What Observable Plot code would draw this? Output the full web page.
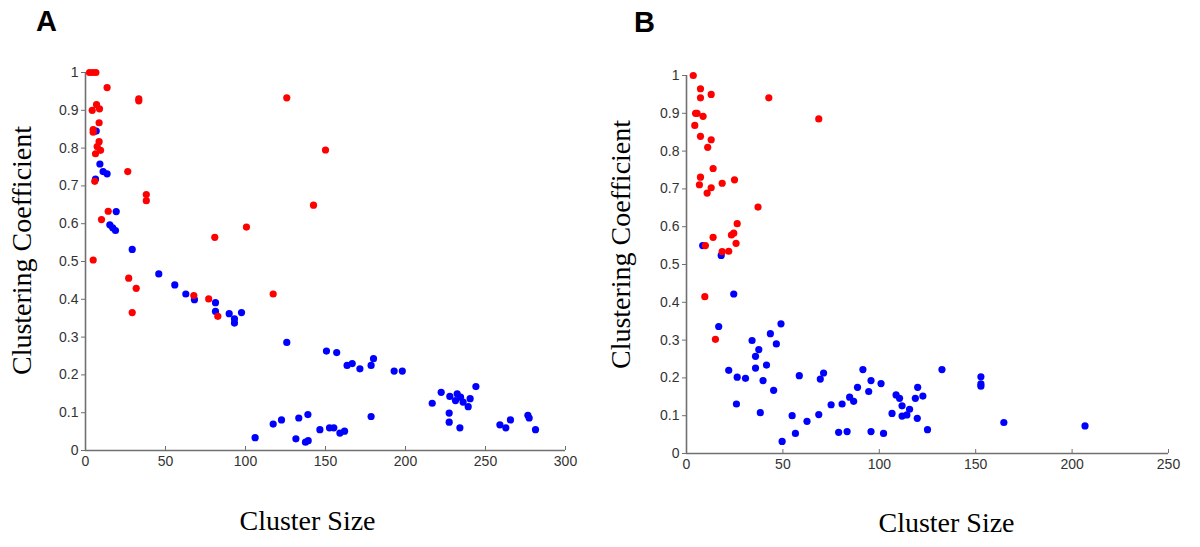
<!DOCTYPE html>
<html>
<head>
<meta charset="utf-8">
<script src="https://cdn.jsdelivr.net/npm/d3@7"></script>
<script src="https://cdn.jsdelivr.net/npm/@observablehq/plot@0.6"></script>
<style>
  html, body { margin: 0; padding: 0; background: #ffffff; }
  #wrap { position: relative; width: 1200px; height: 547px; overflow: hidden; background: #ffffff; }
  .panel { position: absolute; top: 0; width: 600px; height: 547px; }
</style>
</head>
<body>
<div id="wrap">
  <div class="panel" id="panelA" style="left:0px"></div>
  <div class="panel" id="panelB" style="left:600px"></div>
</div>
<script>
// ---- Data (cluster size, clustering coefficient) ----
const panelARed = [
  [2.5,1.0],[4.5,1.0],[6.5,1.0],[13.5,0.96],[33.3,0.93],[33.3,0.925],[4.2,0.90],[6.9,0.915],
  [8.75,0.904],[8.5,0.867],[4.8,0.849],[4.8,0.842],[8.5,0.817],[7.3,0.804],[9.4,0.794],[6.25,0.785],
  [5.8,0.712],[26.4,0.738],[38,0.677],[38,0.661],[14.2,0.633],[10,0.611],[80.8,0.564],[100.6,0.591],
  [4.8,0.504],[27,0.456],[31.7,0.429],[29.2,0.365],[67.7,0.41],[77,0.401],[82.7,0.355],
  [125.8,0.933],[150,0.795],[142.5,0.649],[117.3,0.414]
];
const panelABlue = [
  [6.7,0.845],[6.25,0.718],[9,0.758],[11,0.738],[13.5,0.732],[19.2,0.632],[15.2,0.597],[17,0.589],
  [18.75,0.582],[29.2,0.532],[45.8,0.467],[55.8,0.438],[62.7,0.414],[68.1,0.399],[81.25,0.391],
  [81.25,0.368],[89.8,0.362],[93.1,0.348],[93.1,0.337],[97.5,0.365],[106,0.034],[125.8,0.286],
  [150.6,0.263],[157,0.259],[163.5,0.225],[166.7,0.230],[171.5,0.216],[178.5,0.225],[180,0.243],
  [192.9,0.210],[198,0.210],[178.5,0.09],[222.3,0.154],[216.7,0.125],[227.7,0.143],[232.3,0.150],
  [231.25,0.132],[234.4,0.141],[236,0.128],[239.2,0.116],[240.4,0.137],[244,0.169],[227.3,0.099],
  [227.3,0.075],[234,0.06],[259,0.068],[262.7,0.06],[265.6,0.081],[276.5,0.093],[277.3,0.086],
  [281.25,0.055],[117.3,0.07],[122.5,0.081],[131.5,0.031],[133.3,0.086],[139,0.095],[137.5,0.022],
  [139.2,0.026],[146.5,0.055],[152.5,0.06],[155.2,0.06],[159,0.046],[161.9,0.051]
];
const panelBRed = [
  [3.5,1.0],[7.25,0.965],[12.8,0.95],[7.25,0.941],[42.7,0.941],[4.7,0.90],[5.5,0.90],[8.6,0.892],
  [68.6,0.885],[4.3,0.868],[7.25,0.839],[12.8,0.830],[11,0.810],[13.8,0.754],[7.25,0.731],[6.7,0.711],
  [18.5,0.715],[24.9,0.724],[12.8,0.703],[10.7,0.689],[37.1,0.652],[26.3,0.608],[24.5,0.583],
  [23.3,0.578],[13.8,0.572],[25.7,0.556],[9.8,0.55],[18.5,0.534],[21.9,0.535],[9.5,0.415],[15,0.302]
];
const panelBBlue = [
  [8.4,0.55],[18,0.524],[24.5,0.422],[16.7,0.336],[21.9,0.220],[26.3,0.202],[25.9,0.131],[30.6,0.199],
  [34,0.299],[35.8,0.257],[37.5,0.275],[35.8,0.226],[38.3,0.108],[39.7,0.193],[41.5,0.234],[43.5,0.317],
  [46.6,0.290],[49,0.343],[45.2,0.167],[49.6,0.032],[54.8,0.100],[56.5,0.053],[58.5,0.206],[62.5,0.085],
  [68.6,0.103],[69.4,0.197],[71.1,0.213],[75,0.129],[78.9,0.056],[80.7,0.131],[83.3,0.058],[84.6,0.149],
  [86.7,0.138],[88.7,0.175],[91.5,0.222],[95.7,0.193],[94.5,0.164],[95.7,0.058],[100.9,0.185],
  [102.2,0.053],[106.6,0.106],[108.7,0.155],[110.5,0.146],[111.8,0.126],[111.8,0.099],[114.3,0.102],
  [115.7,0.117],[118.7,0.146],[119.9,0.175],[119.7,0.093],[122.6,0.152],[125,0.063],[132.5,0.222],
  [152.7,0.203],[152.7,0.184],[152.7,0.178],[164.6,0.082],[206.7,0.073]
];
const xTicksA = [0, 50, 100, 150, 200, 250, 300];
const xTicksB = [0, 50, 100, 150, 200, 250];
const yTicks = [0, 0.1, 0.2, 0.3, 0.4, 0.5, 0.6, 0.7, 0.8, 0.9, 1];
const panelLetters = ["A", "B"];
const xTitle = "Cluster Size";
const yTitle = "Clustering Coefficient";

function panel(cfg) {
  const xMax = cfg.xTicks[cfg.xTicks.length - 1];
  return Plot.plot({
    width: 600,
    height: 547,
    marginLeft: cfg.ml,
    marginRight: cfg.mr,
    marginTop: cfg.mt,
    marginBottom: cfg.mb,
    x: {domain: [0, xMax]},
    y: {domain: [0, 1]},
    style: {background: "transparent", fontFamily: "'Liberation Sans', Arial, sans-serif", color: "#333"},
    marks: [
      Plot.axisX(cfg.xTicks, {anchor: "bottom", tickSize: 0, tickPadding: 6, fontSize: 14, label: null, fill: "#333", tickFormat: d => String(d)}),
      Plot.axisY(yTicks, {anchor: "left", tickSize: 4, tickPadding: 3, fontSize: 14, label: null, fill: "#333", stroke: "#707070", tickFormat: d => String(d)}),
      Plot.ruleX(cfg.xTicks, {x: d => d, y1: 0, y2: 4 / (547 - cfg.mt - cfg.mb), stroke: "#707070", strokeWidth: 1}),
      Plot.ruleY([0], {stroke: "#707070", strokeWidth: 1.6}),
      Plot.ruleX([0], {stroke: "#707070", strokeWidth: 1.6}),
      Plot.dot(cfg.blue, {x: d => d[0], y: d => d[1], r: 3.6, fill: "#0000ff", stroke: "none"}),
      Plot.dot(cfg.red, {x: d => d[0], y: d => d[1], r: 3.6, fill: "#ff0000", stroke: "none"}),
      Plot.text([cfg.letter], {text: d => d, frameAnchor: "top-left", dx: cfg.letterDx, dy: cfg.letterDy, textAnchor: "middle", lineAnchor: "middle", fontSize: 29, fontWeight: "bold", fill: "#000", fontFamily: "'Liberation Sans', Arial, sans-serif"}),
      Plot.text([yTitle], {text: d => d, frameAnchor: "left", rotate: -90, textAnchor: "middle", lineAnchor: "middle", dx: cfg.yTitleDx, dy: cfg.yTitleDy, fontSize: 28, fill: "#000", fontFamily: "'Liberation Serif', 'Times New Roman', serif"}),
      Plot.text([xTitle], {text: d => d, frameAnchor: "bottom", textAnchor: "middle", lineAnchor: "middle", dx: cfg.xTitleDx, dy: cfg.xTitleDy, fontSize: 28, fill: "#000", fontFamily: "'Liberation Serif', 'Times New Roman', serif"})
    ]
  });
}

document.getElementById("panelA").append(panel({
  xTicks: xTicksA, red: panelARed, blue: panelABlue, letter: panelLetters[0],
  ml: 85, mr: 35, mt: 72, mb: 97,
  letterDx: -39, letterDy: -51,
  yTitleDx: -63, yTitleDy: -11,
  xTitleDx: -18, xTitleDy: 71
}));
document.getElementById("panelB").append(panel({
  xTicks: xTicksB, red: panelBRed, blue: panelBBlue, letter: panelLetters[1],
  ml: 86, mr: 32, mt: 75, mb: 94,
  letterDx: -42, letterDy: -53,
  yTitleDx: -65, yTitleDy: -20,
  xTitleDx: 19, xTitleDy: 70
}));
</script>
</body>
</html>
